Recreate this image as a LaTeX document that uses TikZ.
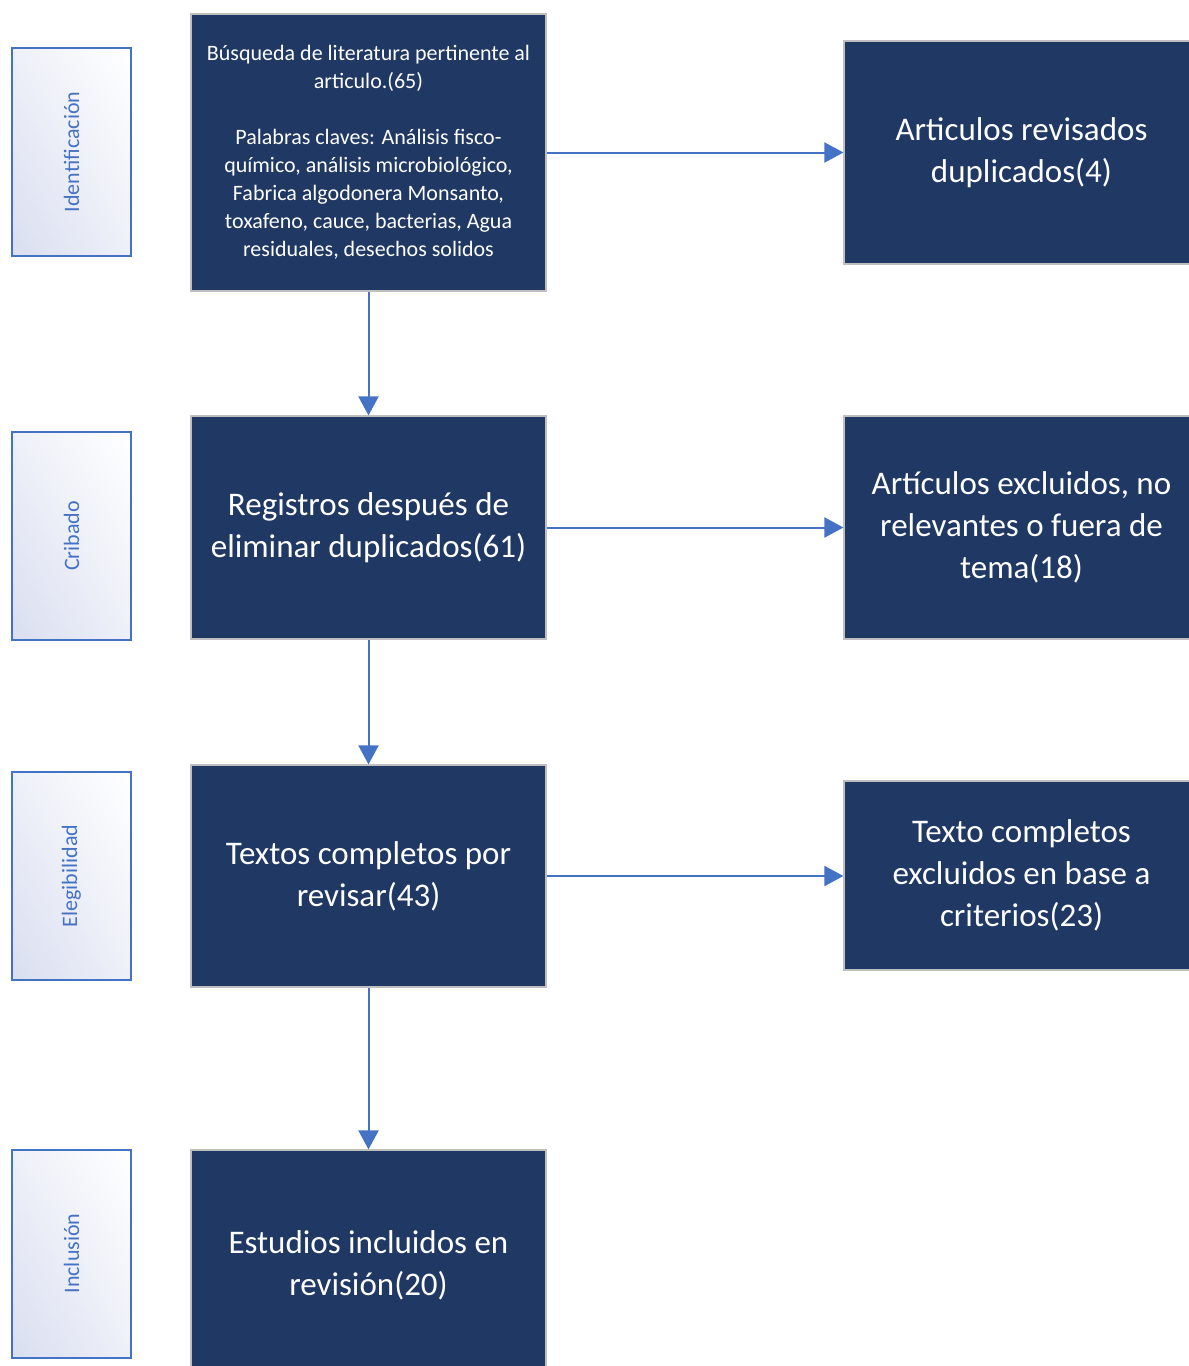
\documentclass[tikz,border=0pt]{standalone}
\usepackage{fontspec}
\setmainfont{Carlito}
\usetikzlibrary{arrows.meta,shadings}
\definecolor{navy}{HTML}{203864}
\definecolor{arrowblue}{HTML}{4472C4}
\definecolor{lav}{HTML}{D9DEF0}
\tikzset{
  mainbox/.style={fill=navy, draw=black!25, line width=0.6pt, text=white, align=center,
    minimum width=177.5pt, inner sep=0pt},
  bigtext/.style={font=\fontsize{16.5pt}{21pt}\selectfont},
  smalltext/.style={font=\fontsize{11pt}{14pt}\selectfont},
  phasebox/.style={draw=arrowblue, line width=1pt, lower left=lav, upper right=white,
    upper left=lav!45, lower right=lav!45,
    minimum width=59.5pt, minimum height=104pt, inner sep=0pt},
  phaselabel/.style={rotate=90, text=arrowblue, font=\fontsize{11pt}{13pt}\selectfont},
  flow/.style={draw=arrowblue, line width=1pt, -{Triangle[length=9.5pt,width=10pt]}}
}
\begin{document}
\begin{tikzpicture}[x=0.5pt,y=-0.5pt]
\useasboundingbox (0,0) rectangle (1189,1366);
\clip (0,0) rectangle (1189,1366);
\fill[white] (0,0) rectangle (1189,1366);

% phase labels
\node[phasebox] (l1) at (71.5,152) {};
\node[phaselabel] (t1) at (l1.center) {Identificación};
\node[phasebox] (l2) at (71.5,536) {};
\node[phaselabel] (t2) at (l2.center) {Cribado};
\node[phasebox] (l3) at (71.5,876) {};
\node[phaselabel] (t3) at (l3.center) {Elegibilidad};
\node[phasebox] (l4) at (71.5,1253.5) {};
\node[phaselabel] (t4) at (l4.center) {Inclusión};

% main column
\node[mainbox, smalltext, minimum height=138.5pt] (b1) at (368.5,152.5)
 {Búsqueda de literatura pertinente al\\ articulo.(65)\\[14pt]
  Palabras claves: Análisis fisco-\\ químico, análisis microbiológico,\\
  Fabrica algodonera Monsanto,\\ toxafeno, cauce, bacterias, Agua\\
  residuales, desechos solidos};
\node[mainbox, bigtext, minimum height=111.5pt] (b2) at (368.5,527.5)
 {Registros después de\\ eliminar duplicados(61)};
\node[mainbox, bigtext, minimum height=111pt] (b3) at (368.5,876)
 {Textos completos por\\ revisar(43)};
\node[mainbox, bigtext, minimum height=115pt] (b4) at (368.5,1265)
 {Estudios incluidos en\\ revisión(20)};

% right column
\node[mainbox, bigtext, minimum height=111.5pt] (r1) at (1021.5,152.5)
 {Articulos revisados\\ duplicados(4)};
\node[mainbox, bigtext, minimum height=111.5pt] (r2) at (1021.5,527.5)
 {Artículos excluidos, no\\ relevantes o fuera de\\ tema(18)};
\node[mainbox, bigtext, minimum height=94.5pt] (r3) at (1021.5,875.5)
 {Texto completos\\ excluidos en base a\\ criterios(23)};

% connectors
\draw[flow] (b1) -- (b2);
\draw[flow] (b2) -- (b3);
\draw[flow] (b3) -- (b4);
\draw[flow] (b1.east) -- (b1.east -| r1.west);
\draw[flow] (b2.east) -- (b2.east -| r2.west);
\draw[flow] (b3.east) -- (b3.east -| r3.west);
\end{tikzpicture}
\end{document}
